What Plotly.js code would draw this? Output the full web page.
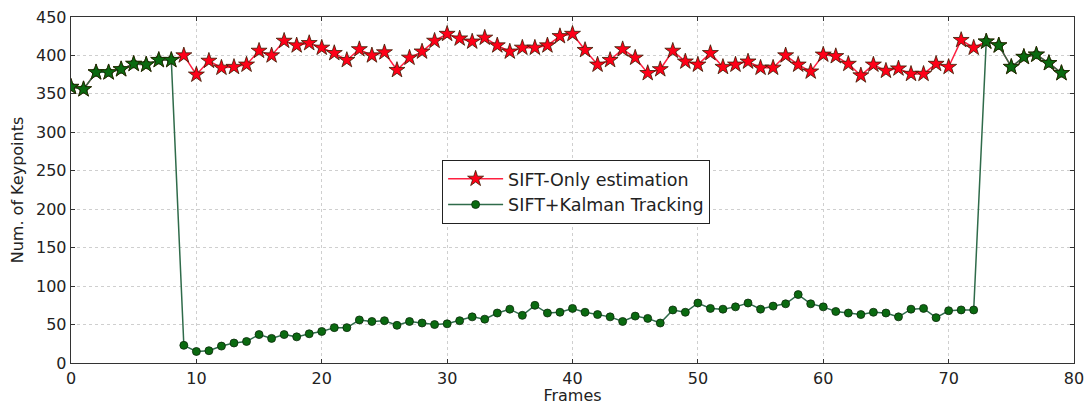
<!DOCTYPE html>
<html>
<head>
<meta charset="utf-8">
<script src="https://cdn.plot.ly/plotly-3.0.1.min.js"></script>
<style>html,body{margin:0;padding:0;background:#fff;}#chart{width:1091px;height:405px;}</style>
</head>
<body>
<div id="chart"></div>
<script>
const frames = Array.from({length: 80}, (_, i) => i);

const siftOnly = [
  359, 356, 378, 378, 382, 389, 388, 394, 394, 400,
  375, 393, 384, 385, 388, 406, 400, 419, 413, 416,
  410, 403, 394, 408, 400, 404, 381, 397, 405, 419,
  428, 422, 418, 423, 413, 405, 410, 410, 413, 425,
  428, 407, 388, 394, 408, 397, 377, 382, 406, 392,
  388, 403, 385, 388, 392, 384, 384, 400, 388, 379,
  401, 399, 389, 374, 388, 380, 383, 376, 376, 389,
  385, 420, 410, 418, 413, 385, 398, 401, 390, 377
];

const kalman = [
  359, 356, 378, 378, 382, 389, 388, 394, 394, 23,
  15, 16, 22, 26, 28, 37, 32, 37, 34, 38,
  41, 46, 46, 56, 54, 55, 49, 54, 52, 50,
  51, 55, 60, 57, 65, 70, 62, 75, 65, 66,
  71, 66, 63, 60, 54, 61, 58, 52, 69, 66,
  78, 71, 70, 73, 78, 70, 74, 77, 89, 77,
  73, 67, 65, 63, 66, 65, 60, 70, 71, 59,
  68, 69, 69, 418, 413, 385, 398, 401, 390, 377
];

const seriesNames = ['SIFT-Only estimation', 'SIFT+Kalman Tracking'];
const xTicks = [0, 10, 20, 30, 40, 50, 60, 70, 80];
const yTicks = [0, 50, 100, 150, 200, 250, 300, 350, 400, 450];

// frames where both estimates coincide are drawn as green stars
const sharedY = kalman.map((v, i) => (v === siftOnly[i] ? v : null));

const FONT = 'DejaVu Sans, sans-serif';

const traces = [
  {
    x: frames, y: siftOnly, name: seriesNames[0], type: 'scatter', mode: 'lines+markers',
    zorder: 1,
    line: {color: '#ff2040', width: 1.5},
    marker: {symbol: 'star', size: 12, color: '#ff0018', line: {color: '#3a1a00', width: 0.8}}
  },
  {
    x: frames, y: kalman, name: seriesNames[1], type: 'scatter', mode: 'lines+markers',
    zorder: 2,
    line: {color: '#2f6b4a', width: 1.5},
    marker: {symbol: 'circle', size: 8, color: '#0a6a10', line: {color: '#0b2a0b', width: 0.8}}
  },
  {
    x: frames, y: sharedY, name: seriesNames[1], type: 'scatter', mode: 'markers',
    zorder: 3, showlegend: false,
    marker: {symbol: 'star', size: 12, color: '#0a6a10', line: {color: '#1a2a00', width: 0.8}}
  }
];

const axisCommon = {
  showline: true, linecolor: '#333', linewidth: 1.3, mirror: 'allticks',
  ticks: 'inside', ticklen: 4, tickcolor: '#333',
  showgrid: true, gridcolor: '#cfcfcf', griddash: 'dot', gridwidth: 1,
  zeroline: false, tickfont: {family: FONT, size: 16, color: '#222'}
};

const layout = {
  width: 1091, height: 405,
  margin: {l: 71, r: 17, t: 17, b: 42},
  paper_bgcolor: '#fff', plot_bgcolor: '#fff',
  showlegend: true,
  legend: {
    x: 0.37, y: 0.587, xanchor: 'left', yanchor: 'top',
    bordercolor: '#222', borderwidth: 1, bgcolor: '#fff',
    font: {family: FONT, size: 17.5, color: '#222'},
    itemwidth: 55,
    tracegroupgap: 2
  },
  xaxis: Object.assign({}, axisCommon, {
    range: [0, 80], tickvals: xTicks, ticktext: xTicks.map(String),
    title: {text: 'Frames', font: {family: FONT, size: 16, color: '#222'}, standoff: 2}
  }),
  yaxis: Object.assign({}, axisCommon, {
    range: [0, 450], tickvals: yTicks, ticktext: yTicks.map(String),
    title: {text: 'Num. of Keypoints', font: {family: FONT, size: 16, color: '#222'}, standoff: 8}
  })
};

Plotly.newPlot('chart', traces, layout, {staticPlot: true, displayModeBar: false});
</script>
</body>
</html>
